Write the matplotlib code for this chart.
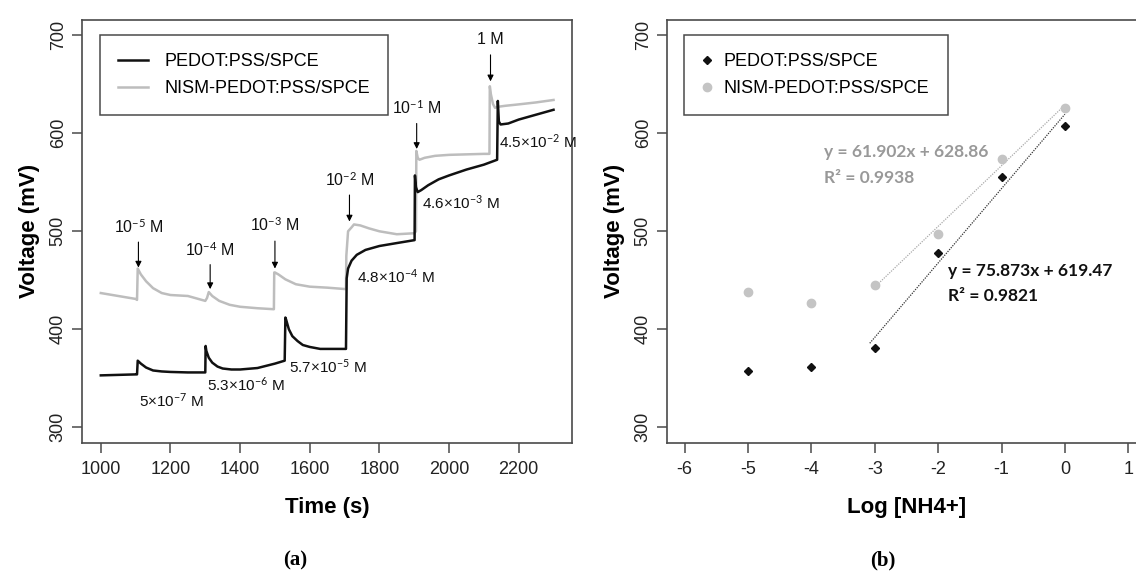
import matplotlib
matplotlib.use("Agg")
import matplotlib.pyplot as plt

plt.rcParams['font.family'] = ['Liberation Sans', 'DejaVu Sans']
plt.rcParams['axes.unicode_minus'] = False
plt.rcParams['mathtext.fontset'] = 'custom'
plt.rcParams['mathtext.rm'] = 'Lato'
plt.rcParams['mathtext.it'] = 'Lato:italic'
plt.rcParams['mathtext.bf'] = 'Lato:bold'

# ---- panel (a): potential vs time ----
t_black = [1000, 1050, 1100, 1104, 1106, 1115, 1130, 1150, 1175, 1200, 1250, 1300,
           1301, 1303, 1310, 1320, 1335, 1350, 1375, 1400, 1450, 1500, 1528,
           1530, 1532, 1540, 1550, 1565, 1580, 1600, 1630, 1670, 1704,
           1706, 1710, 1720, 1735, 1760, 1800, 1850, 1901,
           1902, 1905, 1910, 1920, 1940, 1970, 2000, 2050, 2100, 2138,
           2140, 2143, 2148, 2170, 2200, 2250, 2300]
v_black = [353, 353.5, 354, 354, 368, 365, 361, 358, 357, 356.5, 356, 356,
           383, 378, 371, 366, 362, 360, 359, 359, 360.5, 365, 368,
           412, 410, 400, 393, 388, 384, 382, 380, 380, 380,
           452, 462, 470, 476, 481, 485, 488, 491,
           557, 545, 540, 542, 547, 553, 557, 563, 568, 573,
           633, 612, 609, 610, 614, 619, 624]

t_gray = [1000, 1050, 1100, 1104, 1106, 1115, 1130, 1150, 1175, 1200, 1250, 1300,
          1305, 1310, 1320, 1340, 1370, 1400, 1450, 1497,
          1498, 1500, 1510, 1530, 1560, 1600, 1650, 1704,
          1705, 1710, 1720, 1727, 1745, 1770, 1800, 1850, 1900, 1905,
          1906, 1910, 1915, 1930, 1960, 2000, 2050, 2100, 2116,
          2117, 2120, 2126, 2132, 2140, 2160, 2200, 2250, 2300]
v_gray = [437, 434, 431, 430, 462, 456, 449, 442, 437, 435, 434, 429,
          432, 438, 434, 429, 425, 423, 421.5, 420.5,
          458, 458, 456, 451, 446, 443.5, 442.5, 441,
          475, 500, 504, 507, 506, 503, 500, 497, 498, 500,
          582, 575, 573, 575, 577, 578, 578.5, 579, 579,
          648, 640, 630, 626, 627, 628, 629.5, 631.5, 634]

# additions: label, time, text level, arrow start, arrow tip
add_labels = [r'10$^{-5}$ M', r'10$^{-4}$ M', r'10$^{-3}$ M',
              r'10$^{-2}$ M', r'10$^{-1}$ M', '1 M']
add_t = [1108, 1314, 1500, 1714, 1907, 2119]
add_text_v = [505, 481, 507, 553, 626, 696]
add_from_v = [489, 466, 490, 537, 610, 680]
add_to_v = [463, 441, 462, 510, 584, 653]

# reached concentrations under the black trace
conc_labels = [r'5$\times$10$^{-7}$ M', r'5.3$\times$10$^{-6}$ M', r'5.7$\times$10$^{-5}$ M',
               r'4.8$\times$10$^{-4}$ M', r'4.6$\times$10$^{-3}$ M', r'4.5$\times$10$^{-2}$ M']
conc_t = [1110, 1305, 1540, 1737, 1922, 2143]
conc_v = [327, 343, 362, 454, 529, 591]

# ---- panel (b): calibration ----
log_c = [-5, -4, -3, -2, -1, 0]
v_cal_black = [357.4, 361.2, 381, 478, 555.5, 607]
v_cal_gray = [438, 426.5, 445.4, 497.6, 574, 626]
fit_black = (75.873, 619.47)
fit_gray = (61.902, 628.86)
fit_x_black = [-3.08, 0]
fit_x_gray = [-3.0, 0]

BLACK = '#111111'
GRAY = '#bdbdbd'
FRAME = '#4a4a4a'

fig = plt.figure(figsize=(11.36, 5.84), dpi=100)
W, H = 1136, 584
axa = fig.add_axes([82 / W, (H - 443) / H, (572 - 82) / W, (443 - 19.6) / H])
axb = fig.add_axes([667 / W, (H - 443) / H, (1146 - 667) / W, (443 - 19.6) / H])

for ax in (axa, axb):
    for s in ax.spines.values():
        s.set_color(FRAME)
        s.set_linewidth(1.2)
    ax.tick_params(axis='both', colors=FRAME, length=7, width=1.1, labelsize=13,
                   labelcolor='#222222')
    ax.tick_params(axis='x', pad=6)
    ax.tick_params(axis='y', labelrotation=90, pad=4)
    ax.set_ylim(284, 716)
    ax.set_yticks([300, 400, 500, 600, 700])
    for lab in ax.get_yticklabels():
        lab.set_va('center')
    ax.set_ylabel('Voltage (mV)', fontsize=16, fontweight='bold', labelpad=7)

# panel (a)
axa.plot(t_gray, v_gray, color=GRAY, lw=1.8, label='NISM-PEDOT:PSS/SPCE', zorder=2)
axa.plot(t_black, v_black, color=BLACK, lw=1.8, label='PEDOT:PSS/SPCE', zorder=3)
axa.set_xlim(946, 2353)
axa.set_xticks(range(1000, 2201, 200))
axa.set_xlabel('Time (s)', fontsize=16, fontweight='bold', labelpad=14)

for lab, t, tv, fv, to in zip(add_labels, add_t, add_text_v, add_from_v, add_to_v):
    axa.annotate('', xy=(t, to), xytext=(t, fv),
                 arrowprops=dict(arrowstyle='-|>', color='black', lw=0.8,
                                 mutation_scale=9, shrinkA=0, shrinkB=0))
    axa.text(t, tv, lab, ha='center', va='center', fontsize=11.5, color='#111111')

for lab, t, v in zip(conc_labels, conc_t, conc_v):
    axa.text(t, v, lab, ha='left', va='center', fontsize=11, color='#111111')

h = axa.get_legend_handles_labels()
leg = axa.legend([h[0][1], h[0][0]], [h[1][1], h[1][0]], loc='upper left',
                 bbox_to_anchor=(0.036, 0.963), borderaxespad=0, fontsize=13,
                 frameon=True, fancybox=False, edgecolor=FRAME, framealpha=1,
                 handlelength=1.7, handletextpad=0.9, borderpad=1.0, labelspacing=0.55)
leg.get_frame().set_linewidth(1.1)

# panel (b)
axb.plot(fit_x_gray, [fit_gray[0] * x + fit_gray[1] for x in fit_x_gray],
         color='#aaaaaa', lw=0.9, ls=(0, (1, 1)), zorder=1)
axb.plot(fit_x_black, [fit_black[0] * x + fit_black[1] for x in fit_x_black],
         color='#333333', lw=0.9, ls=(0, (1, 1)), zorder=1)
axb.plot(log_c, v_cal_black, ls='none', marker='D', ms=4, color=BLACK,
         label='PEDOT:PSS/SPCE', zorder=3)
axb.plot(log_c, v_cal_gray, ls='none', marker='o', ms=6, color='#c4c4c4',
         label='NISM-PEDOT:PSS/SPCE', zorder=3)
axb.set_xlim(-6.28, 1.28)
axb.set_xticks(range(-6, 2))
axb.set_xlabel('Log [NH4+]', fontsize=16, fontweight='bold', labelpad=14)

axb.text(-3.8, 581, 'y = 61.902x + 628.86', fontsize=12.5, fontweight='bold',
         color='#999999', ha='left', va='center', family='Lato')
axb.text(-3.8, 554, 'R² = 0.9938', fontsize=12.5, fontweight='bold',
         color='#999999', ha='left', va='center', family='Lato')
axb.text(-1.85, 459, 'y = 75.873x + 619.47', fontsize=12.5, fontweight='bold',
         color='#111111', ha='left', va='center', family='Lato')
axb.text(-1.85, 434, 'R² = 0.9821', fontsize=12.5, fontweight='bold',
         color='#111111', ha='left', va='center', family='Lato')

legb = axb.legend(loc='upper left', bbox_to_anchor=(0.036, 0.963), borderaxespad=0,
                  fontsize=13, frameon=True, fancybox=False, edgecolor=FRAME,
                  framealpha=1, handlelength=0.5, handletextpad=0.7, borderpad=1.0,
                  labelspacing=0.55)
legb.get_frame().set_linewidth(1.1)

fig.text(295 / W, 1 - 560 / H, '(a)', ha='center', va='center', fontsize=15,
         family='Liberation Serif', fontweight='bold')
fig.text(883 / W, 1 - 560 / H, '(b)', ha='center', va='center', fontsize=15,
         family='Liberation Serif', fontweight='bold')

fig.savefig('out.png', dpi=100)
